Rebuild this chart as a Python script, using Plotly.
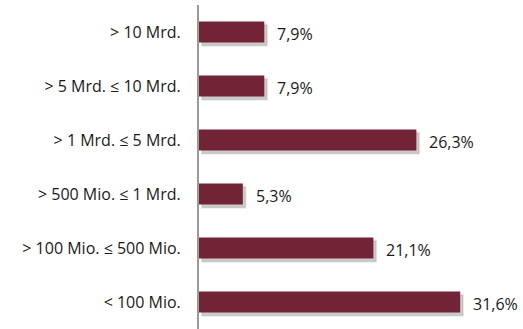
import plotly.graph_objects as go

# Size classes (top to bottom) and their shares in percent
categories = [
    "> 10 Mrd.",
    "> 5 Mrd. \u2264 10 Mrd.",
    "> 1 Mrd. \u2264 5 Mrd.",
    "> 500 Mio. \u2264 1 Mrd.",
    "> 100 Mio. \u2264 500 Mio.",
    "< 100 Mio.",
]
shares = [7.9, 7.9, 26.3, 5.3, 21.1, 31.6]
share_labels = ["7,9%", "7,9%", "26,3%", "5,3%", "21,1%", "31,6%"]

BAR_COLOR = "#722336"
BAR_WIDTH = 0.39
FONT = "Open Sans"

fig = go.Figure()

# soft drop shadow behind each bar
fig.add_trace(go.Bar(
    y=categories, x=shares, base=0.35, orientation="h",
    width=BAR_WIDTH, offset=-BAR_WIDTH / 2 + 0.06,
    marker=dict(color="rgba(0,0,0,0.2)", line=dict(width=2, color="rgba(0,0,0,0.07)")),
    hoverinfo="skip", showlegend=False,
))

fig.add_trace(go.Bar(
    y=categories, x=shares, orientation="h",
    width=BAR_WIDTH, offset=-BAR_WIDTH / 2,
    marker=dict(color=BAR_COLOR, line=dict(width=0)),
    showlegend=False,
))

for cat, val, lab in zip(categories, shares, share_labels):
    fig.add_annotation(
        x=val, y=cat, text=lab, showarrow=False,
        xanchor="left", yanchor="middle", xshift=11, yshift=-2,
        font=dict(family=FONT, size=16, color="#1a1a1a"),
    )

fig.update_layout(
    width=523, height=329,
    margin=dict(l=199, r=0, t=5, b=0),
    paper_bgcolor="white", plot_bgcolor="white",
    barmode="overlay",
    font=dict(family=FONT, size=16, color="#1a1a1a"),
)
fig.update_xaxes(range=[0, 39.2], visible=False, fixedrange=True)
fig.update_yaxes(
    autorange="reversed", showgrid=False, zeroline=False,
    showline=True, linecolor="#9a9a9a", linewidth=2,
    ticks="", ticklabelstandoff=13,
    tickfont=dict(family=FONT, size=16, color="#1a1a1a"),
)

fig.write_html("out.html")
